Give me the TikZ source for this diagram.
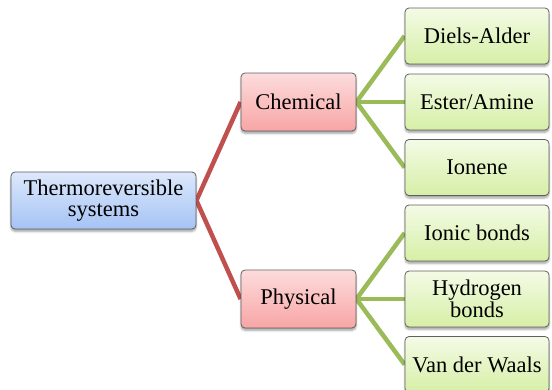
\documentclass[tikz,border=0pt]{standalone}
\usepackage{fontspec}
\setmainfont{Liberation Serif}
\usetikzlibrary{shadows.blur,backgrounds}
\definecolor{redline}{HTML}{C0504D}
\definecolor{greenline}{HTML}{9BBB59}
\definecolor{boxborder}{HTML}{5F5F5F}
\definecolor{blueTop}{HTML}{DDE8FB}
\definecolor{blueBot}{HTML}{A5C3F5}
\definecolor{redTop}{HTML}{FDDCDC}
\definecolor{redBot}{HTML}{F8A5A5}
\definecolor{greenTop}{HTML}{F4FBE6}
\definecolor{greenBot}{HTML}{D6EFA6}
\tikzset{
  box/.style={draw=boxborder, line width=0.8pt, rounded corners=4pt, align=center,
    inner sep=2pt, font=\fontsize{22.5}{21.5}\selectfont,
    blur shadow={shadow xshift=0pt, shadow yshift=-2.5pt, shadow blur steps=6, shadow opacity=35}},
  rootbox/.style={box, top color=blueTop, bottom color=blueBot, minimum width=185pt, minimum height=57pt},
  midbox/.style={box, top color=redTop, bottom color=redBot, minimum width=115pt, minimum height=58pt},
  leafbox/.style={box, top color=greenTop, bottom color=greenBot, minimum width=144pt, minimum height=56pt},
  redlink/.style={draw=redline, line width=4.5pt},
  greenlink/.style={draw=greenline, line width=4.5pt},
}
\begin{document}
\begin{tikzpicture}[x=1pt,y=-1pt]
\useasboundingbox (0,0) rectangle (552,389);
\clip (0,0) rectangle (552,389);
\node[rootbox] (root) at (103.5,200.5) {Thermoreversible\\systems};
\node[midbox] (chem) at (298.5,102) {Chemical};
\node[midbox] (phys) at (298.5,299) {Physical};
\node[leafbox] (da) at (477,36) {Diels-Alder};
\node[leafbox] (ea) at (477,102) {Ester/Amine};
\node[leafbox] (io) at (477,167.5) {Ionene};
\node[leafbox] (ib) at (477,233) {Ionic bonds};
\node[leafbox] (hb) at (477,299) {Hydrogen\\bonds};
\node[leafbox] (vw) at (477,364.5) {Van der Waals};
\begin{scope}[on background layer]
\draw[redlink] (root.east) -- (chem.west);
\draw[redlink] (root.east) -- (phys.west);
\draw[greenlink] (chem.east) -- (da.west);
\draw[greenlink] (chem.east) -- (ea.west);
\draw[greenlink] (chem.east) -- (io.west);
\draw[greenlink] (phys.east) -- (ib.west);
\draw[greenlink] (phys.east) -- (hb.west);
\draw[greenlink] (phys.east) -- (vw.west);
\end{scope}
\end{tikzpicture}
\end{document}
